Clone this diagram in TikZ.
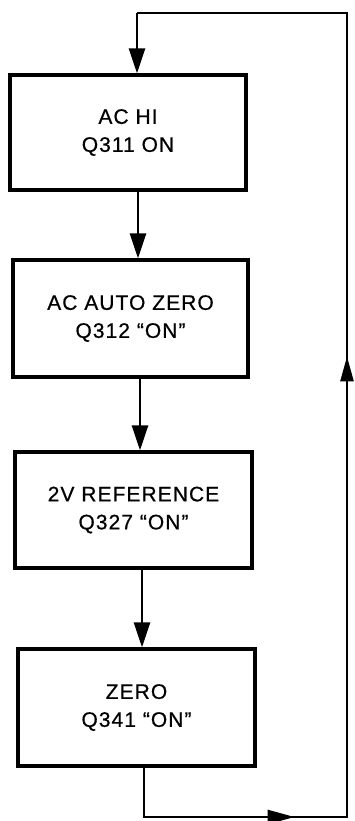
\documentclass[tikz,border=0pt]{standalone}
\usepackage{fontspec}
\newfontfamily\labfont[LetterSpace=5,FakeBold=0.6]{Liberation Sans}
\usetikzlibrary{arrows.meta,decorations.markings}
\begin{document}
\begin{tikzpicture}[x=1pt,y=-1pt,
  box/.style={draw=black, line width=3.2pt, minimum width=236pt, minimum height=116pt,
    align=center, inner sep=0pt, font=\labfont\fontsize{21}{28}\selectfont},
  conn/.style={draw=black, line width=2.6pt},
  flowtip/.style={-{Triangle[length=25pt,width=16pt]}},
  loopmarks/.style={postaction={decorate}, decoration={markings,
    mark=at position 200pt with {\arrow{Triangle[length=27pt,width=14pt]}},
    mark=at position 713pt with {\arrow{Triangle[length=25pt,width=13pt]}}}}
]
\useasboundingbox (0,0) rectangle (355,821);
\node[box, minimum width=236pt, minimum height=115pt] (b1) at (128,132.5) {AC HI\\Q311 ON};
\node[box, minimum width=235pt, minimum height=117pt] (b2) at (130.5,318.5) {AC AUTO ZERO\\Q312 “ON”};
\node[box, minimum width=237pt, minimum height=116pt] (b3) at (133.5,510) {2V REFERENCE\\Q327 “ON”};
\node[box, minimum width=237pt, minimum height=117pt] (b4) at (136.5,707.5) {ZERO\\Q341 “ON”};
\coordinate (c1) at (347,817);
\coordinate (c2) at (347,13);
\coordinate (c3) at (137,13);
\draw[conn, flowtip] (b1.south -| 138,0) -- (b2.north -| 138,0);
\draw[conn, flowtip] (b2.south -| 140,0) -- (b3.north -| 140,0);
\draw[conn, flowtip] (b3.south -| 142,0) -- (b4.north -| 142,0);
\draw[conn, loopmarks] (b4.south -| 144,0) |- (c1) -- (c2) -- (c3);
\draw[conn, flowtip] (c3) -- (b1.north -| c3);
\end{tikzpicture}
\end{document}
